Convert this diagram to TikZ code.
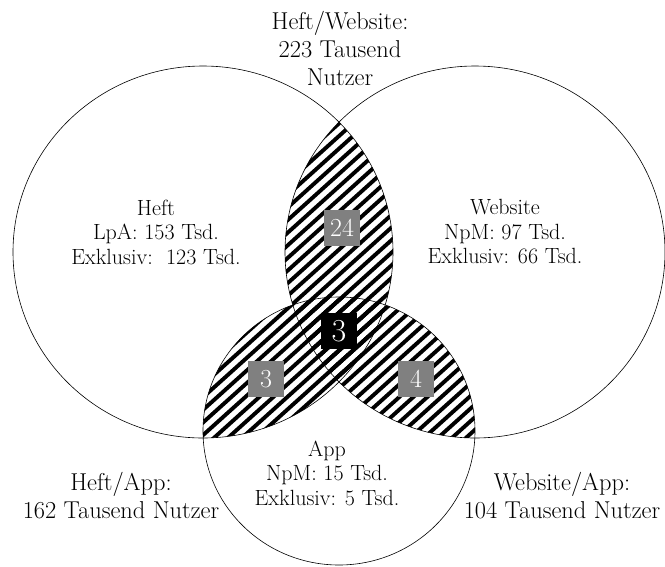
\documentclass[tikz,border=0pt]{standalone}

\newcommand{\heftset}{(203,252) ellipse [x radius=190pt, y radius=186pt]}
\newcommand{\webset}{(475,252) ellipse [x radius=190pt, y radius=186pt]}
\newcommand{\appset}{(339,431) ellipse [x radius=136pt, y radius=134pt]}

\begin{document}
\begin{tikzpicture}[x=1pt, y=-1pt,
    setlabel/.style={align=center, font=\fontsize{22}{24.5}\selectfont},
    pairlabel/.style={align=center, font=\fontsize{24.4}{28}\selectfont},
    countbox/.style={fill=black!50, text=white, minimum size=36pt, inner sep=0pt, font=\fontsize{26}{26}\selectfont},
    stripe/.style={line width=3.9pt},
    ring/.style={line width=0.6pt}]

    \useasboundingbox (0,0) rectangle (665,566);

    % Hatched overlaps
    \begin{scope}
        \clip \heftset; \clip \webset;
        \foreach \s in {-400,-386,...,420} \draw[stripe] (\s,600) -- ++(666,-600);
    \end{scope}
    \begin{scope}
        \clip \heftset; \clip \appset;
        \foreach \s in {-400,-386,...,420} \draw[stripe] (\s,600) -- ++(666,-600);
    \end{scope}
    \begin{scope}
        \clip \webset; \clip \appset;
        \foreach \s in {-400,-386,...,420} \draw[stripe] (\s,600) -- ++(666,-600);
    \end{scope}

    % Sets
    \draw[ring] \heftset;
    \draw[ring] \webset;
    \draw[ring] \appset;

    % Set labels
    \node[setlabel] (heft) at (156,232) {Heft\\LpA: 153 Tsd.\\Exklusiv:\ \ 123 Tsd.};
    \node[setlabel] (web) at (505,232) {Website\\NpM: 97 Tsd.\\Exklusiv: 66 Tsd.};
    \node[setlabel] (app) at (327,473) {App\\NpM: 15 Tsd.\\Exklusiv: 5 Tsd.};

    % Pair labels
    \node[pairlabel] (heftweb) at (340,48) {Heft/Website:\\223 Tausend\\Nutzer};
    \node[pairlabel] (heftapp) at (121,496) {Heft/App:\\162 Tausend Nutzer};
    \node[pairlabel] (webapp) at (562,496) {Website/App:\\104 Tausend Nutzer};

    % Counts
    \node[countbox] (n24) at (342,228) {24};
    \node[countbox] (n3) at (266,379) {3};
    \node[countbox] (n4) at (416,379) {4};
    \node[countbox, fill=black, font=\fontsize{32}{32}\selectfont] (all) at (339,331) {3};

\end{tikzpicture}
\end{document}
